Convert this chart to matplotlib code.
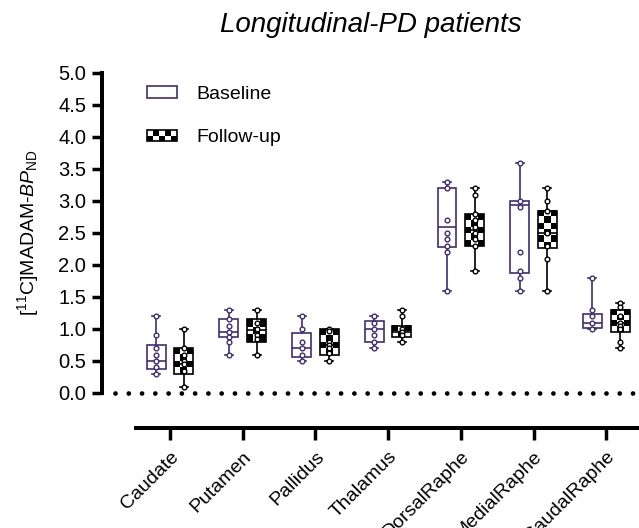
import numpy as np
import matplotlib
matplotlib.use('Agg')
import matplotlib.pyplot as plt
from matplotlib.patches import Patch, Rectangle
from matplotlib.legend_handler import HandlerBase

plt.rcParams['font.family'] = 'Liberation Sans'
plt.rcParams['mathtext.fontset'] = 'custom'
plt.rcParams['mathtext.rm'] = 'Liberation Sans'
plt.rcParams['mathtext.it'] = 'Liberation Sans:italic'

regions = ['Caudate', 'Putamen', 'Pallidus', 'Thalamus',
           'DorsalRaphe', 'MedialRaphe', 'CaudalRaphe']

# baseline box stats (min / q1 / median / q3 / max)
base_min = [0.3, 0.6, 0.5, 0.7, 1.6, 1.6, 1.0]
base_q1 = [0.38, 0.87, 0.57, 0.8, 2.28, 1.88, 1.02]
base_med = [0.5, 0.95, 0.7, 1.0, 2.6, 2.93, 1.1]
base_q3 = [0.75, 1.15, 0.93, 1.12, 3.2, 3.0, 1.23]
base_max = [1.2, 1.3, 1.2, 1.2, 3.3, 3.6, 1.8]

# follow-up box stats
fu_min = [0.1, 0.6, 0.5, 0.8, 1.9, 1.6, 0.7]
fu_q1 = [0.3, 0.8, 0.6, 0.87, 2.3, 2.26, 0.95]
fu_med = [0.45, 0.98, 0.75, 0.95, 2.55, 2.5, 1.1]
fu_q3 = [0.7, 1.15, 1.0, 1.05, 2.8, 2.85, 1.3]
fu_max = [1.0, 1.3, 1.0, 1.3, 3.2, 3.2, 1.4]

# individual subjects
base_pts = [
    [1.2, 0.9, 0.7, 0.6, 0.5, 0.4, 0.3],
    [1.3, 1.15, 1.05, 0.95, 0.87, 0.8, 0.6],
    [1.2, 1.0, 0.8, 0.7, 0.6, 0.5],
    [1.2, 1.1, 1.0, 0.9, 0.8, 0.7],
    [3.3, 3.2, 2.7, 2.5, 2.4, 2.3, 2.2, 1.6],
    [3.6, 3.0, 2.9, 2.2, 1.9, 1.8, 1.6],
    [1.8, 1.3, 1.2, 1.1, 1.0],
]
fu_pts = [
    [1.0, 0.7, 0.6, 0.5, 0.45, 0.35, 0.1],
    [1.3, 1.1, 1.0, 0.9, 0.85, 0.6],
    [1.0, 0.97, 0.8, 0.75, 0.7, 0.62, 0.5],
    [1.3, 1.2, 1.0, 0.95, 0.9, 0.8],
    [3.2, 3.1, 2.8, 2.7, 2.6, 2.5, 2.4, 2.3, 1.9],
    [3.2, 3.0, 2.85, 2.5, 2.3, 2.1, 1.6],
    [1.4, 1.35, 1.2, 1.1, 1.05, 1.0, 0.8, 0.7],
]

purple = '#3f2d76'
box_w = 0.26
off = 0.19


class CheckerHandler(HandlerBase):
    def create_artists(self, legend, orig_handle, xdescent, ydescent,
                       width, height, fontsize, trans):
        arts = []
        ncol, nrow = 5, 2
        for i in range(ncol):
            for j in range(nrow):
                c = 'black' if (i + j) % 2 == 0 else 'white'
                arts.append(Rectangle((-xdescent + i * width / ncol, -ydescent + j * height / nrow),
                                      width / ncol, height / nrow, facecolor=c,
                                      edgecolor='none', transform=trans))
        arts.append(Rectangle((-xdescent, -ydescent), width, height, facecolor='none',
                              edgecolor='black', lw=1.2, transform=trans))
        return arts


fig = plt.figure(figsize=(6.39, 5.28), dpi=100)
ax = fig.add_axes([102 / 639, 1 - 398.1 / 528, 537 / 639, 328.3 / 528])

x = np.arange(len(regions))


def stats(lo, q1, med, q3, hi):
    return [dict(whislo=a, q1=b, med=c, q3=d, whishi=e, fliers=[])
            for a, b, c, d, e in zip(lo, q1, med, q3, hi)]


def draw(st, pos, col):
    ax.bxp(st, positions=pos, widths=box_w, capwidths=0.11, showfliers=False,
           patch_artist=True, manage_ticks=False,
           boxprops=dict(facecolor='none', edgecolor=col, lw=1.2, zorder=3),
           whiskerprops=dict(color=col, lw=1.2),
           capprops=dict(color=col, lw=1.2),
           medianprops=dict(color=col, lw=1.2, zorder=3))


draw(stats(base_min, base_q1, base_med, base_q3, base_max), x - off, purple)
draw(stats(fu_min, fu_q1, fu_med, fu_q3, fu_max), x + off, 'black')

# checkerboard fill for follow-up boxes
for xi, lo, hi in zip(x + off, fu_q1, fu_q3):
    nrow = max(1, int(round((hi - lo) / 0.1)))
    pat = np.indices((nrow, 3)).sum(axis=0) % 2
    ax.imshow(pat, cmap='gray', extent=[xi - box_w / 2, xi + box_w / 2, lo, hi],
              aspect='auto', interpolation='nearest', zorder=1.5)

for xi, pts in zip(x - off, base_pts):
    ax.plot([xi] * len(pts), pts, 'o', ms=3.4, mfc='white', mec=purple, mew=1, zorder=4)
for xi, pts in zip(x + off, fu_pts):
    ax.plot([xi] * len(pts), pts, 'o', ms=3.4, mfc='white', mec='black', mew=1, zorder=4)

ax.axhline(0, xmin=13 / 537, color='black', lw=3.4, ls=(0, (0.01, 2.8)),
           dash_capstyle='round', zorder=1)

ax.set_xlim(-0.935, 6.45)
ax.set_ylim(-0.08, 5.05)
ax.set_yticks(np.arange(0, 5.01, 0.5))
ax.set_yticklabels([f'{v:.1f}' for v in np.arange(0, 5.01, 0.5)])
ax.set_xticks(x)
ax.set_xticklabels(regions)

for s in ['top', 'right']:
    ax.spines[s].set_visible(False)
ax.spines['left'].set_bounds(0, 5)
ax.spines['left'].set_linewidth(2.9)
ax.spines['bottom'].set_position(('outward', 21.6))
ax.spines['bottom'].set_bounds(-0.47, 6.45)
ax.spines['bottom'].set_linewidth(2.9)
ax.tick_params(axis='y', length=7.5, width=2.5, labelsize=14.5, pad=4)
ax.tick_params(axis='x', length=8.5, width=2.5, labelsize=14, pad=6, labelrotation=45)
plt.setp(ax.get_xticklabels(), ha='right', va='top', rotation_mode='anchor')

fig.text(28 / 639, 1 - 233 / 528, r'[$^{11}$C]MADAM-$\mathit{BP}_{\mathrm{ND}}$',
         fontsize=14, rotation=90, ha='center', va='center')
fig.text(371 / 639, 1 - 25 / 528, 'Longitudinal-PD patients', fontsize=20,
         style='italic', ha='center', va='center')

h_base = Patch(facecolor='white', edgecolor=purple, lw=1.2)
h_fu = Patch(facecolor='white', edgecolor='black')
ax.legend([h_base, h_fu], ['Baseline', 'Follow-up'], handler_map={h_fu: CheckerHandler()},
          loc='upper left', bbox_to_anchor=(147 / 639, 1 - 86 / 528),
          bbox_transform=fig.transFigure, frameon=False, fontsize=14,
          handlelength=1.55, handleheight=0.52, handletextpad=1.0,
          labelspacing=1.36, borderpad=0, borderaxespad=0)

fig.savefig('out.png', dpi=100)
